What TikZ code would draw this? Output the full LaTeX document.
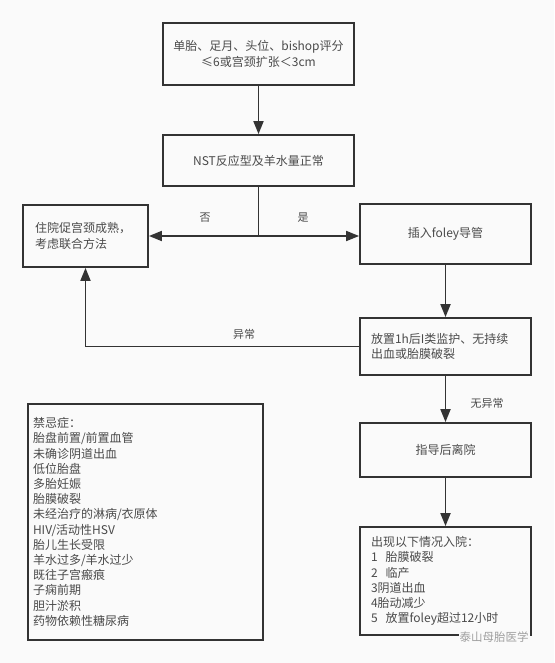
\documentclass[tikz,border=0pt]{standalone}
\usepackage{fontspec}
\setmainfont{Noto Sans CJK SC}
\usetikzlibrary{arrows.meta}
\definecolor{linegray}{HTML}{333333}
\definecolor{textgray}{HTML}{4A4A4A}
\definecolor{paper}{HTML}{FAFAFA}

\begin{document}
\begin{tikzpicture}[x=1pt,y=-1pt,
  box/.style={draw=linegray, line width=1.8pt, text=textgray, font=\fontsize{12}{15.2}\selectfont, inner sep=0pt, align=center},
  listbox/.style={box, align=left},
  flow/.style={draw=linegray, line width=1.8pt, -{Triangle[length=13pt,width=10pt]}},
  lbl/.style={text=textgray, font=\fontsize{11}{13}\selectfont}]

 \fill[paper] (0,0) rectangle (554,663);
 \useasboundingbox (0,0) rectangle (554,663);

 % main column
 \node (start) at (258.5,54) [box, minimum width=191pt, minimum height=62pt] {单胎、足月、头位、bishop评分\\≤6或宫颈扩张＜3cm};
 \node (nst) at (258.5,160.5) [box, minimum width=191pt, minimum height=51pt] {NST反应型及羊水量正常};
 \node (ripen) at (85.5,236) [listbox, text width=101pt, inner xsep=12pt, minimum height=62pt] {住院促宫颈成熟，\\考虑联合方法};
 \node (foley) at (445.5,234) [box, minimum width=171pt, minimum height=60pt] {插入foley导管};
 \node (obs) at (445.5,346.5) [listbox, text width=149pt, inner xsep=11pt, minimum height=57pt] {放置1h后I类监护、无持续\\出血或胎膜破裂};
 \node (home) at (445.5,450) [box, minimum width=171pt, minimum height=54pt] {指导后离院};
 \node (admit) at (445.5,581) [listbox, text width=149pt, inner xsep=11pt, minimum height=108pt] {出现以下情况入院：\\1\ \ 胎膜破裂\\2\ \ 临产\\3阴道出血\\4胎动减少\\5\ \ 放置foley超过12小时};

 % contraindications
 \node (contra) at (145.5,522) [listbox, text width=225pt, inner xsep=5pt, minimum height=236pt] {禁忌症：\\胎盘前置/前置血管\\未确诊阴道出血\\低位胎盘\\多胎妊娠\\胎膜破裂\\未经治疗的淋病/衣原体\\HIV/活动性HSV\\胎儿生长受限\\羊水过多/羊水过少\\既往子宫瘢痕\\子痫前期\\胆汁淤积\\药物依赖性糖尿病};

 \coordinate (split) at (nst.south |- ripen.east);
 \draw [flow] (start) -- (nst);
 \draw [draw=linegray, line width=1.8pt] (nst.south) -- (split);
 \draw [flow] (split) -- (ripen.east);
 \draw [flow] (split) -- (split -| foley.west);
 \draw [flow] (foley) -- (obs);
 \draw [flow] (obs.west) -| (ripen.south);
 \draw [flow] (obs) -- (home);
 \draw [flow] (home) -- (admit);

 \node (no) at (205,218) [lbl] {否};
 \node (yes) at (303,218) [lbl] {是};
 \node (abn) at (244,334) [lbl] {异常};
 \node (normal) at (487,403) [lbl] {无异常};

 \node (mark) at (494,637) [fill=paper, inner sep=1pt, text=gray!75, font=\fontsize{11.5}{12}\selectfont] {泰山母胎医学};
\end{tikzpicture}
\end{document}
